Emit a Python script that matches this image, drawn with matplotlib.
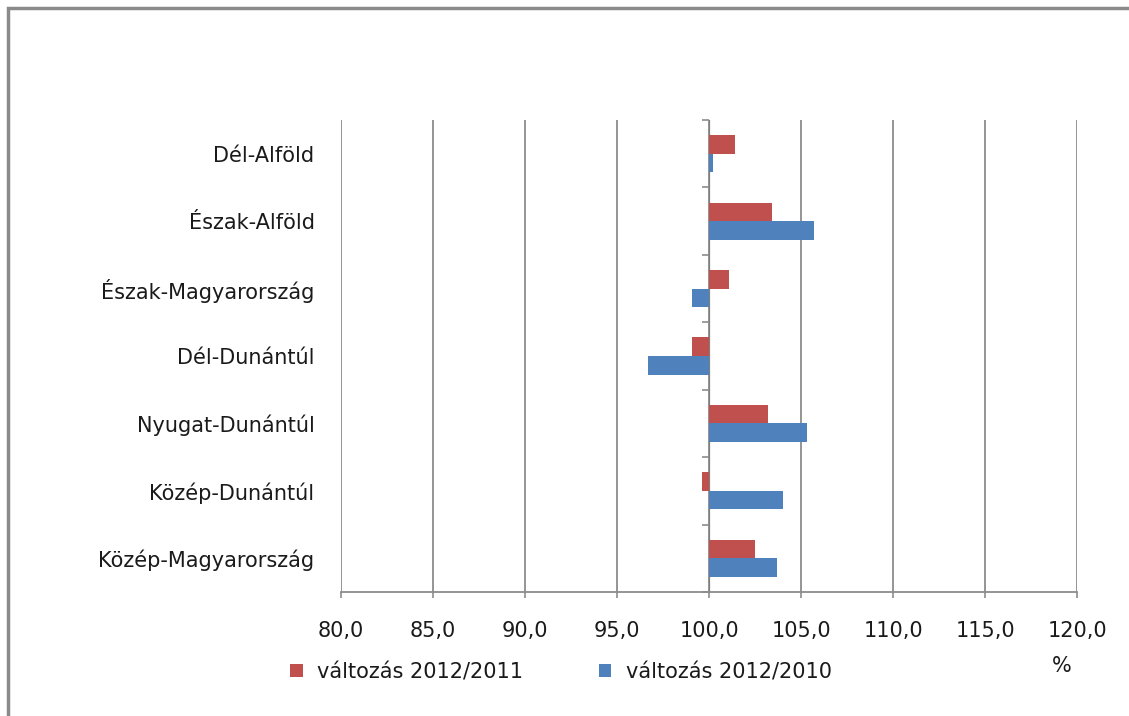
import matplotlib.pyplot as plt
import numpy as np
from matplotlib.patches import Rectangle

# regions, top to bottom as shown
regions = ['Dél-Alföld', 'Észak-Alföld', 'Észak-Magyarország', 'Dél-Dunántúl',
           'Nyugat-Dunántúl', 'Közép-Dunántúl', 'Közép-Magyarország']
chg_2011 = [101.4, 103.4, 101.1, 99.1, 103.2, 99.6, 102.5]
chg_2010 = [100.2, 105.7, 99.1, 96.7, 105.3, 104.0, 103.7]
xticks = [80, 85, 90, 95, 100, 105, 110, 115, 120]
labels = ['változás 2012/2011', 'változás 2012/2010']

plt.rcParams['font.family'] = ['DejaVu Sans']
gray = '#8c8c8c'
red = '#C0504D'
blue = '#4F81BD'
txt = '#1a1a1a'
base = 100

fig = plt.figure(figsize=(11.29, 7.16), dpi=100)
ax = fig.add_axes([341/1129, 1-592/716, (1077-341)/1129, (592-120)/716])

y = np.arange(len(regions))
h = 0.275
ax.barh(y - h/2, np.array(chg_2011) - base, height=h, left=base, color=red, label=labels[0])
ax.barh(y + h/2, np.array(chg_2010) - base, height=h, left=base, color=blue, label=labels[1])

ax.set_xlim(80, 120)
ax.set_ylim(len(regions) - 0.5, -0.5)
ax.set_xticks(xticks)
ax.set_xticklabels([('%.1f' % v).replace('.', ',') for v in xticks])
ax.set_yticks(y)
ax.set_yticklabels(regions)
ax.tick_params(axis='y', length=0, pad=19, labelsize=15, labelcolor=txt)
ax.tick_params(axis='x', length=4, width=1.2, color=gray, pad=17, labelsize=15, labelcolor=txt)

ax.grid(axis='x', color=gray, linewidth=1.3)
ax.set_axisbelow(True)
for s in ['top', 'right', 'left']:
    ax.spines[s].set_visible(False)
ax.spines['bottom'].set_color(gray)
ax.spines['bottom'].set_linewidth(1.3)

# category axis crossing at 100, ticks pointing left
sec = ax.secondary_yaxis(0.5)
sec.set_yticks(np.arange(len(regions) + 1) - 0.5)
sec.set_yticklabels([])
sec.tick_params(length=5, width=1.2, color=gray, direction='in')
sec.spines['left'].set_color(gray)
sec.spines['left'].set_linewidth(1.3)

fig.legend(loc='center', bbox_to_anchor=(561/1129, 1-672/716), ncol=2, frameon=False,
           fontsize=15, handlelength=0.6, handleheight=0.6, handletextpad=0.7,
           columnspacing=3.6, labelcolor=txt)
fig.text(1062/1129, 1-666/716, '%', fontsize=15, ha='center', va='center', color=txt)

# outer frame
fig.patches.append(Rectangle((8/1129, -0.1), 1.2, 1-8/716+0.1, transform=fig.transFigure,
                             fill=False, edgecolor='#8a8a8a', linewidth=2.5))

fig.savefig('out.png', dpi=100)
